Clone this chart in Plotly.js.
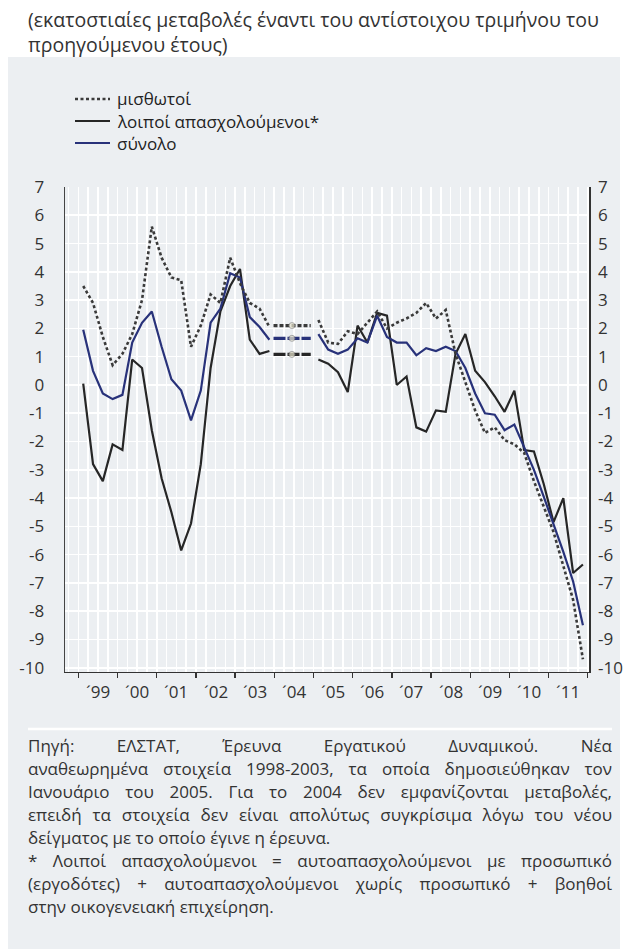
<!DOCTYPE html>
<html>
<head>
<meta charset="utf-8">
<script src="https://cdn.plot.ly/plotly-3.0.1.min.js"></script>
<style>
html,body{margin:0;padding:0;background:#ffffff;}
#wrap{position:relative;width:624px;height:949px;overflow:hidden;}
#chart{position:absolute;left:0;top:0;width:624px;height:949px;}
#notes{position:absolute;left:28px;top:734px;width:584px;font-family:'Open Sans','DejaVu Sans',sans-serif;font-size:17px;line-height:23px;color:#333;}
#notes div{white-space:nowrap;}
</style>
</head>
<body>
<div id="wrap">
<div id="chart"></div>
<div id="notes"></div>
</div>
<script>
// ---- data ----
const years = [1999, 2000, 2001, 2002, 2003, 2004, 2005, 2006, 2007, 2008, 2009, 2010, 2011];
const quarters = [1, 2, 3, 4];
const yearLabels = ["´99", "´00", "´01", "´02", "´03", "´04", "´05", "´06", "´07", "´08", "´09", "´10", "´11"];

// μισθωτοί (employees) – % change y/y, quarterly
const misthotoi = [
  3.5, 2.9, 1.7, 0.7,
  1.1, 1.8, 3.0, 5.6,
  4.5, 3.8, 3.7, 1.35,
  2.1, 3.2, 2.9, 4.5,
  3.6, 2.9, 2.7, 2.05,
  null, null, null, null,
  2.3, 1.5, 1.45, 1.9,
  1.8, 2.2, 2.6, 2.0,
  2.2, 2.35, 2.55, 2.9,
  2.35, 2.65, 1.1, 0.1,
  -0.9, -1.7, -1.5, -1.95,
  -2.1, -2.4, -3.4, -4.3,
  -5.2, -6.4, -7.6, -9.7
];
// λοιποί απασχολούμενοι (other employed)
const loipoi = [
  0.05, -2.8, -3.4, -2.1,
  -2.3, 0.9, 0.6, -1.6,
  -3.3, -4.5, -5.85, -4.9,
  -2.8, 0.6, 2.6, 3.5,
  4.1, 1.6, 1.1, 1.2,
  null, null, null, null,
  0.9, 0.75, 0.45, -0.25,
  2.1, 1.5, 2.55, 2.45,
  0.0, 0.3, -1.5, -1.65,
  -0.9, -0.95, 1.1, 1.8,
  0.5, 0.1, -0.4, -0.95,
  -0.2, -2.3, -2.35, -3.5,
  -4.85, -4.0, -6.65, -6.35
];
// σύνολο (total)
const synolo = [
  1.95, 0.5, -0.3, -0.5,
  -0.35, 1.5, 2.2, 2.6,
  1.35, 0.2, -0.2, -1.25,
  -0.2, 2.2, 2.7, 3.95,
  3.8, 2.4, 2.05, 1.6,
  null, null, null, null,
  1.8, 1.25, 1.1, 1.25,
  1.65, 1.5, 2.45, 1.7,
  1.5, 1.5, 1.05, 1.3,
  1.2, 1.35, 1.2, 0.6,
  -0.3, -1.0, -1.05, -1.6,
  -1.4, -2.2, -3.0, -3.95,
  -4.9, -5.9, -6.95, -8.5
];
// 2004 bridge levels (no comparable data): μισθωτοί, λοιποί, σύνολο
const gapYear = 2004;
const bridgeLevels = [2.1, 1.08, 1.65];

const yTickVals = [7, 6, 5, 4, 3, 2, 1, 0, -1, -2, -3, -4, -5, -6, -7, -8, -9, -10];
const yTickText = ["7", "6", "5", "4", "3", "2", "1", "0", "-1", "-2", "-3", "-4", "-5", "-6", "-7", "-8", "-9", "-10"];

const seriesNames = ["μισθωτοί", "λοιποί απασχολούμενοι*", "σύνολο"];
const titleText = "(εκατοστιαίες μεταβολές έναντι του αντίστοιχου τριμήνου του<br>προηγούμενου έτους)";
const noteLines = [
  ["Πηγή: ΕΛΣΤΑΤ, Έρευνα Εργατικού Δυναμικού. Νέα", true],
  ["αναθεωρημένα στοιχεία 1998-2003, τα οποία δημοσιεύθηκαν τον", true],
  ["Ιανουάριο του 2005. Για το 2004 δεν εμφανίζονται μεταβολές,", true],
  ["επειδή τα στοιχεία δεν είναι απολύτως συγκρίσιμα λόγω του νέου", true],
  ["δείγματος με το οποίο έγινε η έρευνα.", false],
  ["* Λοιποί απασχολούμενοι = αυτοαπασχολούμενοι με προσωπικό", true],
  ["(εργοδότες) + αυτοαπασχολούμενοι χωρίς προσωπικό + βοηθοί", true],
  ["στην οικογενειακή επιχείρηση.", false]
];

// ---- build ----
const xq = [];
years.forEach(y => quarters.forEach(q => xq.push(y + (q - 0.5) / 4)));

const FONT = 'Open Sans, DejaVu Sans, sans-serif';
const TXT = '#333333';
const C_DOT = '#3a3a3a', C_BLK = '#262626', C_BLUE = '#28327a';
const XR = [1998.66, 2012.03];
const YR = [-10.15, 7.0];

const lineStyles = [
  {color: C_DOT, width: 2.6, dash: '3px,2.5px'},
  {color: C_BLK, width: 2.2, dash: 'solid'},
  {color: C_BLUE, width: 2.2, dash: 'solid'}
];
const seriesData = [misthotoi, loipoi, synolo];

const traces = [];
[1, 2, 0].forEach(k => traces.push({
  x: xq, y: seriesData[k], name: seriesNames[k], type: 'scatter', mode: 'lines',
  line: lineStyles[k], showlegend: false, connectgaps: false, hoverinfo: 'skip'
}));
const bridgeStyle = [
  {color: C_DOT, dash: '4px,2px'},
  {color: C_BLK, dash: '12px,2px'},
  {color: C_BLUE, dash: '12px,2px'}
];
bridgeLevels.forEach((v, k) => {
  traces.push({
    x: [gapYear - 0.02, gapYear + 0.45, gapYear + 0.93], y: [v, v, v],
    xaxis: 'x2', yaxis: 'y2', type: 'scatter', mode: 'lines+markers', showlegend: false,
    hoverinfo: 'skip',
    line: {color: bridgeStyle[k].color, width: 3.2, dash: bridgeStyle[k].dash},
    marker: {size: [0, 6, 0], color: '#e9e6cf', line: {color: '#8a8a8a', width: 1}}
  });
});

// pixel helpers for paper coords (plot area: x 65..589, y 187..672)
const L = 65, R = 589, T = 187, B = 672;
const px = v => (v - L) / (R - L);
const py = v => (B - v) / (B - T);

const annotations = years.map((y, k) => ({
  x: y + 0.5, xref: 'x', y: py(691), yref: 'paper', text: yearLabels[k], showarrow: false,
  xanchor: 'center', yanchor: 'middle', font: {family: FONT, size: 17, color: TXT}
}));

// manual legend
const legendRows = [99, 121, 143];
const legendShapes = [];
seriesNames.forEach((n, k) => {
  legendShapes.push({type: 'line', xref: 'paper', yref: 'paper',
    x0: px(75), x1: px(110), y0: py(legendRows[k]), y1: py(legendRows[k]),
    line: {color: lineStyles[k].color, width: lineStyles[k].width, dash: lineStyles[k].dash}});
  annotations.push({x: px(115), y: py(legendRows[k]), xref: 'paper', yref: 'paper', text: n,
    showarrow: false, xanchor: 'left', yanchor: 'middle', font: {family: FONT, size: 17, color: '#222'}});
});

const layout = {
  width: 624, height: 949,
  paper_bgcolor: '#ffffff', plot_bgcolor: 'rgba(0,0,0,0)',
  margin: {l: L, r: 624 - R, t: T, b: 949 - B, pad: 0},
  title: {text: titleText, x: 28 / 624, xanchor: 'left', xref: 'container',
          y: 1 - 27 / 949, yanchor: 'top', yref: 'container',
          font: {family: FONT, size: 19.5, color: TXT}},
  showlegend: false,
  xaxis: {range: XR, tickmode: 'linear', tick0: 1999, dtick: 0.25, showgrid: true,
          gridcolor: '#ffffff', gridwidth: 1.6, showticklabels: false, ticks: '',
          zeroline: false, showline: false, fixedrange: true},
  xaxis2: {range: XR, overlaying: 'x', anchor: 'y2', side: 'bottom', tickmode: 'linear', tick0: 1999, dtick: 1,
           ticks: 'outside', ticklen: 5, tickwidth: 1.3, tickcolor: '#333', showticklabels: false,
           showgrid: false, zeroline: false, showline: true, linecolor: '#333', linewidth: 1.4},
  yaxis: {range: YR, tickmode: 'array', tickvals: yTickVals, ticktext: yTickText,
          showgrid: true, gridcolor: '#ffffff', gridwidth: 1.6, zeroline: false,
          showline: true, linecolor: '#444', linewidth: 1.4,
          ticks: 'outside', ticklen: 16, tickcolor: 'rgba(0,0,0,0)',
          tickfont: {family: FONT, size: 17, color: TXT}},
  yaxis2: {range: YR, overlaying: 'y', side: 'right', anchor: 'x2', tickmode: 'array', tickvals: yTickVals, ticktext: yTickText,
           showgrid: false, zeroline: false, showline: true, linecolor: '#333', linewidth: 1.6,
           ticks: 'outside', ticklen: 4, tickcolor: 'rgba(0,0,0,0)',
           tickfont: {family: FONT, size: 17, color: TXT}},
  shapes: [
    {type: 'rect', xref: 'paper', yref: 'paper', x0: px(8), x1: px(620), y0: py(949), y1: py(57),
     fillcolor: '#eceff2', line: {width: 0}, layer: 'below'},
    {type: 'line', xref: 'paper', yref: 'paper', x0: px(28), x1: px(612), y0: py(729), y1: py(729),
     line: {color: '#ffffff', width: 2.5}, layer: 'below'}
  ].concat(legendShapes),
  annotations: annotations
};

Plotly.newPlot('chart', traces, layout, {staticPlot: true, displayModeBar: false});

// notes: justify each line by measuring it and setting word-spacing
const notes = document.getElementById('notes');
const W = 584;
noteLines.forEach(([t, just]) => {
  const d = document.createElement('div');
  const s = document.createElement('span');
  s.textContent = t;
  d.appendChild(s);
  notes.appendChild(d);
  let w = s.getBoundingClientRect().width;
  if (w > W) {
    const ls = (W - w) / Math.max(1, t.length - 1);
    s.style.letterSpacing = ls + 'px';
    w = s.getBoundingClientRect().width;
  }
  if (just) {
    const gaps = (t.match(/ /g) || []).length;
    if (gaps > 0) s.style.wordSpacing = ((W - w) / gaps) + 'px';
  }
});
</script>
</body>
</html>
